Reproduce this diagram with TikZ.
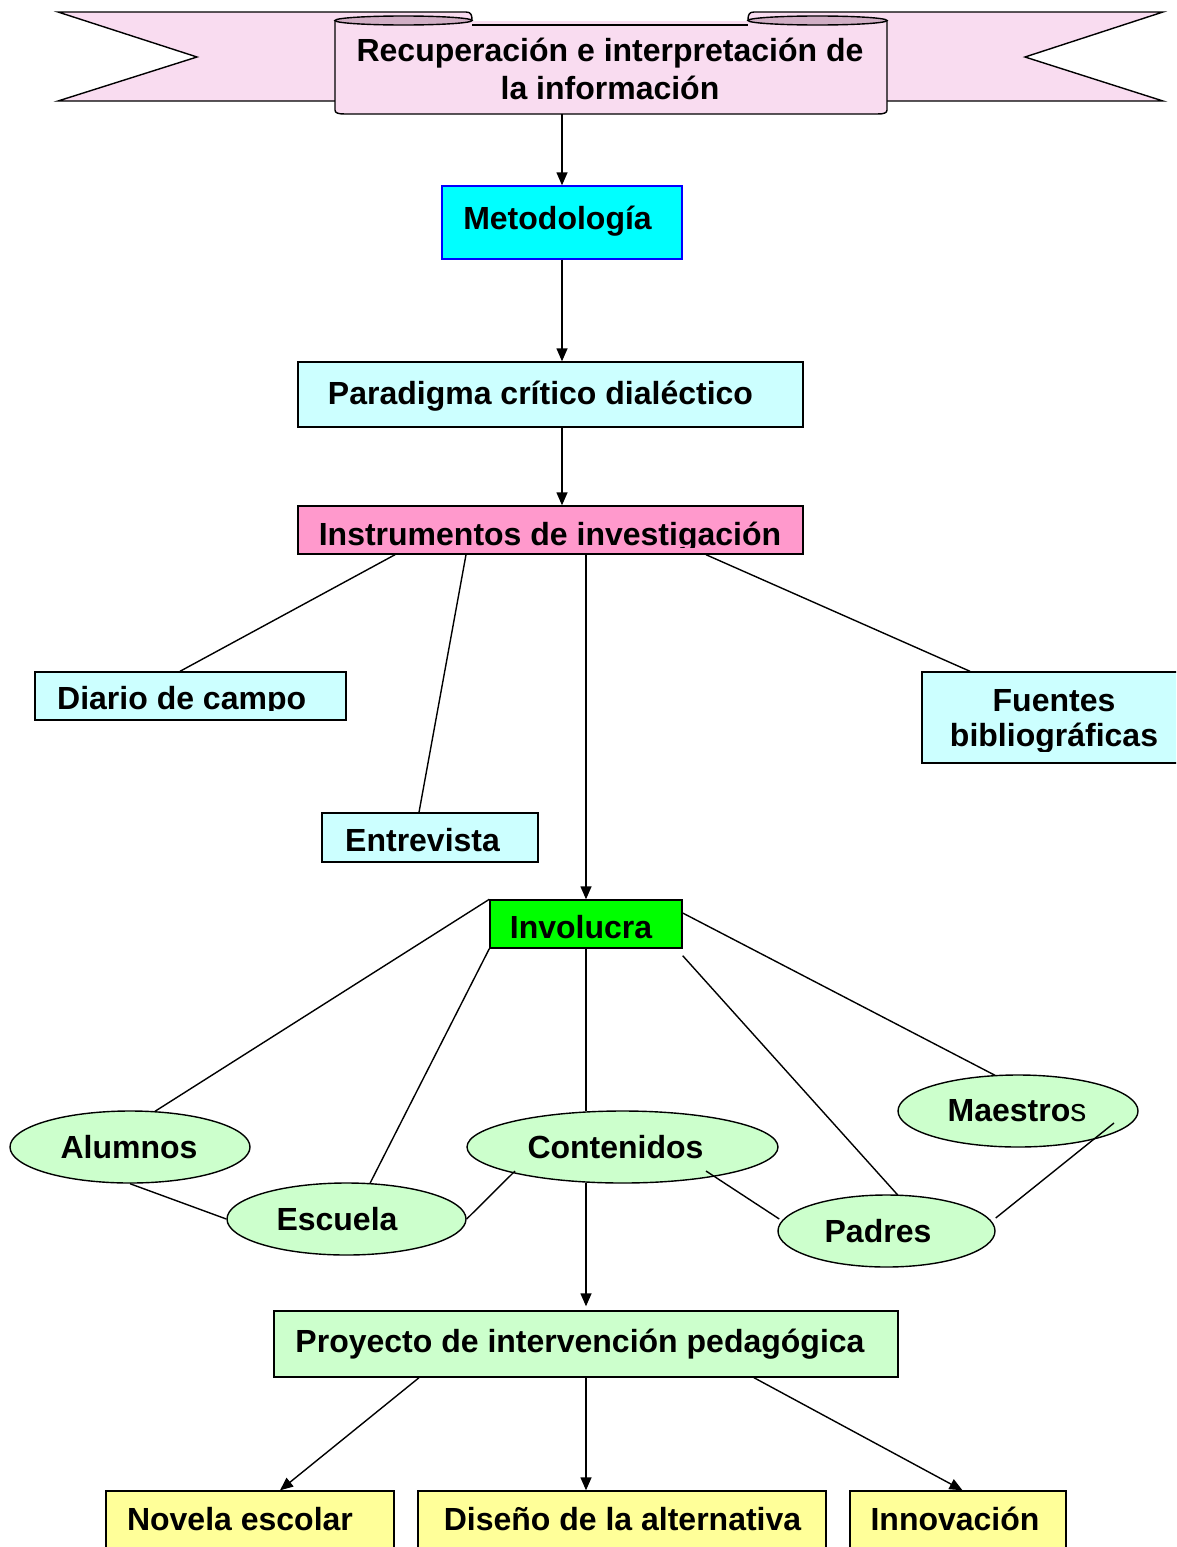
\documentclass[tikz,border=0pt]{standalone}
\usepackage{fontspec}
\setmainfont{Liberation Sans}
\usetikzlibrary{arrows.meta,shapes.geometric}
\definecolor{bpink}{HTML}{F9DCF0}
\definecolor{bdark}{HTML}{D0AEC4}
\definecolor{lcyan}{HTML}{CCFFFF}
\definecolor{cyanb}{HTML}{00FFFF}
\definecolor{pinkb}{HTML}{FF99CC}
\definecolor{greenb}{HTML}{00FF00}
\definecolor{lgreen}{HTML}{CCFFCC}
\definecolor{lyellow}{HTML}{FFFF99}
\begin{document}
\begin{tikzpicture}[x=1pt,y=-1pt,
  ln/.style={line width=1.4pt},
  box/.style={draw, line width=1.4pt, rectangle, inner sep=0pt},
  ell/.style={draw, ellipse, fill=lgreen, line width=1.4pt, inner sep=0pt},
  txt/.style={inner sep=0pt, anchor=base, font=\fontsize{32}{38}\selectfont\bfseries},
  etxt/.style={txt, anchor=center},
  arr/.style={line width=1.4pt, -{Triangle[length=13pt,width=11pt]}}]
\useasboundingbox (0,0) rectangle (1176,1547);
\clip (0,0) rectangle (1176,1547);

% ---------- banner ----------
\draw[ln, fill=bpink] (58,12) -- (466,12) .. controls (471,12) and (472,15) .. (472,20)
   -- (472,101) -- (58,101) -- (197,57) -- cycle;
\draw[ln, fill=bpink] (1163,12) -- (754,12) .. controls (749,12) and (748,15) .. (748,20)
   -- (748,101) -- (1163,101) -- (1025,57) -- cycle;
\fill[bpink] (335,21) -- (335,110) .. controls (335,113) and (338,114) .. (345,114)
   -- (877,114) .. controls (884,114) and (887,113) .. (887,110) -- (887,21) -- cycle;
\draw[ln] (335,21) -- (335,110) .. controls (335,113) and (338,114) .. (345,114)
   -- (877,114) .. controls (884,114) and (887,113) .. (887,110) -- (887,21);
\draw[ln] (472,25) -- (748,25);
\draw[ln, fill=bdark] (403.5,20.5) ellipse [x radius=68.5, y radius=4.5];
\draw[ln, fill=bdark] (817.5,20.5) ellipse [x radius=69.5, y radius=4.5];
\node[txt] (ban1) at (610,61) {Recuperación e interpretación de};
\node[txt] (ban2) at (610,99) {la información};
\coordinate (banbot) at (562,114);

% ---------- boxes ----------
\node[box, draw=blue, fill=cyanb, minimum width=240, minimum height=73] (met) at (562,222.5) {};
\node[txt] (metT) at (557.5,229) {Metodología};

\node[box, fill=lcyan, minimum width=505, minimum height=65] (par) at (550.5,394.5) {};
\node[txt] (parT) at (540.5,404) {Paradigma crítico dialéctico};

\node[box, fill=pinkb, minimum width=505, minimum height=48] (ins) at (550.5,530) {};
\begin{scope}
  \clip (ins.north west) rectangle ([yshift=7pt]ins.south east);
  \node[txt] (insT) at (550,545) {Instrumentos de investigación};
\end{scope}

\node[box, fill=lcyan, minimum width=311, minimum height=48] (dia) at (190.5,696) {};
\begin{scope}
  \clip (dia.north west) rectangle ([yshift=10pt]dia.south east);
  \node[txt, anchor=base west] (diaT) at (57,709) {Diario de campo};
\end{scope}

\node[box, fill=lcyan, minimum width=216, minimum height=49] (ent) at (430,837.5) {};
\begin{scope}
  \clip (ent.north west) rectangle ([yshift=10pt]ent.south east);
  \node[txt, anchor=base west] (entT) at (345,851) {Entrevista};
\end{scope}

\node[box, fill=lcyan, minimum width=268, minimum height=91] (fue) at (1056,717.5) {};
\node[txt] (fueT1) at (1054,711) {Fuentes};
\begin{scope}
  \clip (fue.north west) rectangle ([yshift=12pt]fue.south east);
  \node[txt] (fueT2) at (1054,746) {bibliográficas};
\end{scope}

\node[box, fill=greenb, minimum width=192, minimum height=48] (inv) at (586,924) {};
\begin{scope}
  \clip (inv.north west) rectangle ([yshift=7pt]inv.south east);
  \node[txt] (invT) at (581,938) {Involucra};
\end{scope}

% ---------- ellipses ----------
\node[ell, minimum width=240, minimum height=72] (alu) at (130,1147) {};
\node[etxt] (aluT) at (129,1147) {Alumnos};
\node[ell, minimum width=239, minimum height=72] (esc) at (346.5,1219) {};
\node[etxt] (escT) at (337,1219) {Escuela};
\node[ell, minimum width=311, minimum height=72] (con) at (622.5,1147) {};
\node[etxt] (conT) at (615.5,1147) {Contenidos};
\node[ell, minimum width=217, minimum height=72] (pad) at (886.5,1231) {};
\node[etxt] (padT) at (878,1231) {Padres};
\node[ell, minimum width=240, minimum height=72] (mae) at (1018,1111) {};
\node[etxt] (maeT) at (1017,1111) {Maestro\mdseries s};

% ---------- lower boxes ----------
\node[box, fill=lgreen, minimum width=624, minimum height=66] (pro) at (586,1344) {};
\node[txt] (proT) at (580,1352) {Proyecto de intervención pedagógica};

\node[box, fill=lyellow, minimum width=288, minimum height=79] (nov) at (250,1530.5) {};
\node[txt] (novT) at (240,1530) {Novela escolar};
\node[box, fill=lyellow, minimum width=408, minimum height=79] (dis) at (622,1530.5) {};
\node[txt] (disT) at (622.5,1530) {Diseño de la alternativa};
\node[box, fill=lyellow, minimum width=216, minimum height=79] (inn) at (958,1530.5) {};
\node[txt] (innT) at (955,1530) {Innovación};

% ---------- connectors ----------
\draw[arr] (banbot) -- (met.north);
\draw[arr] (met.south) -- (met.south |- par.north);
\draw[arr] (par.south -| met.south) -- (ins.north -| met.south);

\draw[ln] ([xshift=-155.5pt]ins.south) -- ([xshift=-10.5pt]dia.north);
\draw[ln] ([xshift=-84.5pt]ins.south) -- ([xshift=-11pt]ent.north);
\draw[arr] ([xshift=35.5pt]ins.south) -- (inv.north);
\draw[ln] ([xshift=155.5pt]ins.south) -- ([xshift=-86pt]fue.north);

\draw[ln] (inv.north west) -- ([xshift=25pt,yshift=-1pt]alu.north);
\draw[ln] (inv.south west) -- ([xshift=23.5pt,yshift=-1pt]esc.north);
\draw[ln] (inv.south) -- ([xshift=-36.5pt,yshift=-1pt]con.north);
\draw[ln] ([yshift=-7pt]inv.south east) -- ([xshift=11.5pt,yshift=-1pt]pad.north);
\draw[ln] ([yshift=11pt]inv.east) -- ([xshift=-23pt,yshift=-1pt]mae.north);

\draw[ln] (alu.south) -- (esc.west);
\draw[ln] (esc.east) -- ([xshift=-107.5pt,yshift=-24pt]con.center);
\draw[ln] ([xshift=83.5pt,yshift=-24pt]con.center) -- ([xshift=2pt,yshift=12pt]pad.west);
\draw[ln] ([yshift=13pt]pad.east) -- ([xshift=96pt,yshift=-12pt]mae.center);

\draw[arr] ([xshift=-36.5pt,yshift=1pt]con.south) -- ([yshift=4pt]pro.north);

\draw[arr] ([xshift=-167pt]pro.south) -- ([xshift=30pt]nov.north);
\draw[arr] (pro.south) -- ([xshift=-36pt]dis.north);
\draw[arr] ([xshift=168pt]pro.south) -- ([xshift=4.5pt]inn.north);
\end{tikzpicture}
\end{document}
